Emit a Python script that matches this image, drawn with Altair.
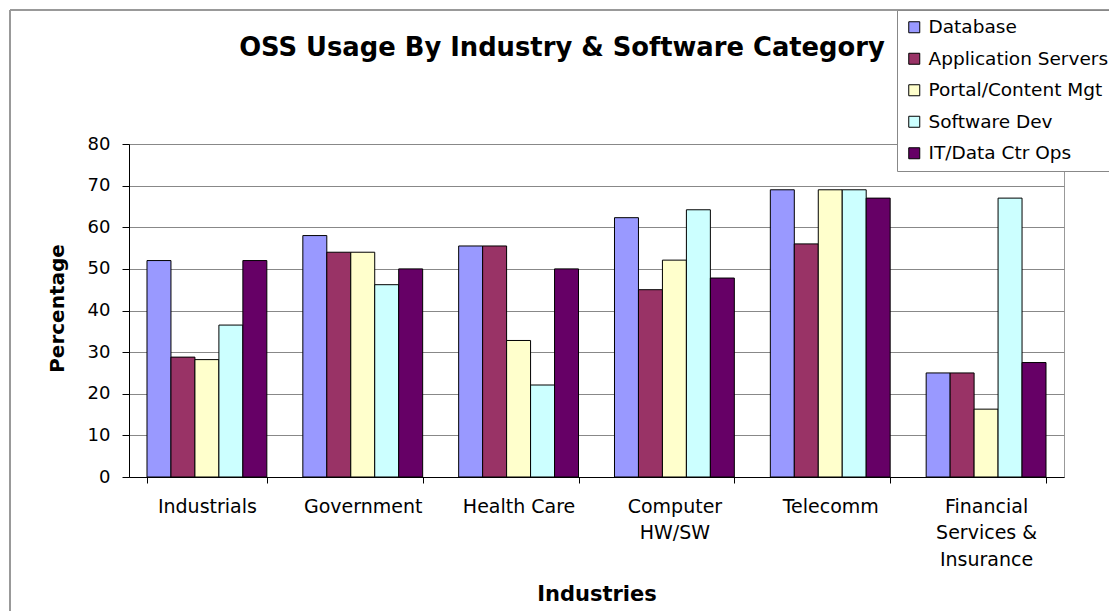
import altair as alt
import pandas as pd

industries = ["Industrials", "Government", "Health Care", "Computer|HW/SW",
              "Telecomm", "Financial|Services &|Insurance"]
categories = ["Database", "Application Servers", "Portal/Content Mgt",
              "Software Dev", "IT/Data Ctr Ops"]
database = [52, 58, 55.5, 62.3, 69, 25]
app_servers = [28.8, 54, 55.5, 45, 56, 25]
portal = [28.2, 54, 32.8, 52.1, 69, 16.3]
software_dev = [36.5, 46.2, 22.1, 64.2, 69, 67]
it_ops = [52, 50, 50, 47.8, 67, 27.5]
colors = ["#9999FF", "#993366", "#FFFFCC", "#CCFFFF", "#660066"]
title_text = "OSS Usage By Industry & Software Category"

rows = []
for cat, vals in zip(categories, [database, app_servers, portal, software_dev, it_ops]):
    for ind, v in zip(industries, vals):
        rows.append({"Industry": ind, "Category": cat, "Percentage": v})
df = pd.DataFrame(rows)

FONT = "DejaVu Sans"

bars = alt.Chart(df).mark_bar(stroke="black", strokeWidth=1).encode(
    x=alt.X("Industry:N", sort=industries,
            scale=alt.Scale(paddingInner=0.231, paddingOuter=0.1155),
            axis=alt.Axis(title="Industries", labelAngle=0,
                          labelExpr="split(datum.label, '|')",
                          tickBand="extent", grid=False,
                          domainColor="black", tickColor="black", tickSize=6,
                          labelPadding=14, labelFont=FONT, labelFontSize=19,
                          labelColor="black", labelLineHeight=26.5,
                          labelBaseline="top",
                          titleFont=FONT, titleFontSize=21, titleFontWeight="bold",
                          titleColor="black", titleBaseline="alphabetic",
                          titleY=123, titleX=467.5, titleAlign="center")),
    xOffset=alt.XOffset("Category:N", sort=categories),
    y=alt.Y("Percentage:Q", scale=alt.Scale(domain=[0, 80]),
            axis=alt.Axis(title="Percentage", values=list(range(0, 81, 10)),
                          grid=True, gridColor="#888888", gridWidth=1,
                          domainColor="black", tickColor="black", tickSize=7,
                          labelPadding=12, labelFont=FONT, labelFontSize=18,
                          labelColor="black",
                          titleFont=FONT, titleFontSize=20, titleFontWeight="bold",
                          titleColor="black", titleAngle=270, titleBaseline="alphabetic",
                          titleAlign="center", titleX=-66, titleY=164)),
    color=alt.Color("Category:N",
                    scale=alt.Scale(domain=categories, range=colors),
                    legend=alt.Legend(title=None, orient="none", legendX=768, legendY=-134,
                                      direction="vertical", symbolType="square",
                                      symbolSize=121, symbolStrokeColor="black",
                                      symbolStrokeWidth=1, symbolOpacity=1,
                                      labelFont=FONT, labelFontSize=18.5, labelColor="black",
                                      labelLimit=400, labelOffset=5,
                                      strokeColor="#888888", fillColor="white",
                                      padding=8, rowPadding=12.5)),
)

title = alt.Chart(pd.DataFrame({"t": [title_text]})).mark_text(
    font=FONT, fontSize=25.8, fontWeight="bold", color="black",
    align="center", baseline="alphabetic"
).encode(text="t:N", x=alt.value(433), y=alt.value(-88.5))

border_df = pd.DataFrame({"a": [0]})
border_top = alt.Chart(border_df).mark_rule(color="#999999", strokeWidth=2).encode(
    x=alt.value(-119), x2=alt.value(1100), y=alt.value(-134))
border_left = alt.Chart(border_df).mark_rule(color="#999999", strokeWidth=2).encode(
    x=alt.value(-119), y=alt.value(-134), y2=alt.value(480))

chart = alt.layer(border_top, border_left, bars, title).properties(
    width=935, height=333,
    autosize=alt.AutoSizeParams(type="none"),
    padding={"left": 129, "top": 144, "right": 45, "bottom": 134},
    background="white",
).configure_view(stroke="#999999", strokeWidth=1)

chart.save("out.html", embed_options={"renderer": "svg", "actions": False})
